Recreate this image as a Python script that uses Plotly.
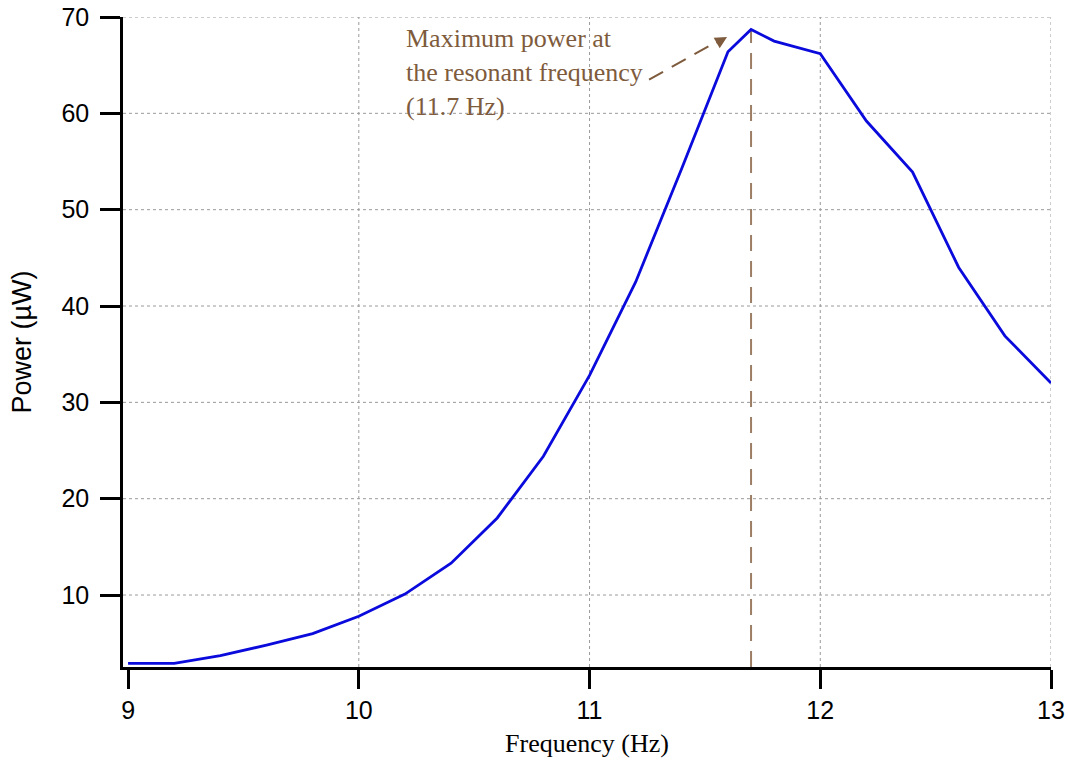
import plotly.graph_objects as go

# ---- data ----
frequency_hz = [9.0, 9.2, 9.4, 9.6, 9.8, 10.0, 10.2, 10.4, 10.6, 10.8, 11.0, 11.2,
                11.4, 11.6, 11.7, 11.8, 12.0, 12.2, 12.4, 12.6, 12.8, 13.0]
power_uw = [2.9, 2.9, 3.7, 4.8, 6.0, 7.8, 10.1, 13.3, 18.0, 24.4, 32.8, 42.5,
            54.3, 66.4, 68.7, 67.5, 66.2, 59.2, 53.9, 44.0, 36.9, 32.0]
x_ticks = [9, 10, 11, 12, 13]
y_ticks = [10, 20, 30, 40, 50, 60, 70]
x_grid = [10, 11, 12, 13]
y_grid = [10, 20, 30, 40, 50, 60, 70]
annotation_text = "Maximum power at<br>the resonant frequency<br>(11.7 Hz)"

X_RANGE = [8.978, 13.0]
Y_RANGE = [2.53, 70.0]

BROWN = "#7E5B3C"
BROWN_LIGHT = "#9C7E64"
BLUE = "#0A0ADC"

peak_i = max(range(len(power_uw)), key=lambda i: power_uw[i])
peak_f = frequency_hz[peak_i]
peak_p = power_uw[peak_i]

fig = go.Figure()

# vertical dashed marker at the resonant frequency
fig.add_trace(go.Scatter(
    x=[peak_f, peak_f], y=[Y_RANGE[0], peak_p], mode="lines",
    line=dict(color=BROWN_LIGHT, width=2, dash="16px,10px"),
    hoverinfo="skip", showlegend=False))

# main curve
fig.add_trace(go.Scatter(
    x=frequency_hz, y=power_uw, mode="lines",
    line=dict(color=BLUE, width=2.8), showlegend=False))

shapes = []
for gx in x_grid:
    shapes.append(dict(type="line", xref="x", yref="paper", x0=gx, x1=gx, y0=0, y1=1,
                       line=dict(color="#9a9a9a", width=1, dash="dot"), layer="below"))
for gy in y_grid:
    shapes.append(dict(type="line", xref="paper", yref="y", x0=0, x1=1, y0=gy, y1=gy,
                       line=dict(color="#9a9a9a", width=1, dash="dot"), layer="below"))

# dashed arrow shaft
arrow_start = (11.258, 63.5)
arrow_end = (11.575, 67.75)
shapes.append(dict(type="line", xref="x", yref="y",
                   x0=arrow_start[0], y0=arrow_start[1], x1=arrow_end[0], y1=arrow_end[1],
                   line=dict(color=BROWN, width=2, dash="16px,10px")))

fig.update_layout(
    width=1068, height=765,
    margin=dict(l=123, r=17, t=17, b=98, autoexpand=False),
    paper_bgcolor="white", plot_bgcolor="white",
    shapes=shapes,
    xaxis=dict(
        range=X_RANGE, tickvals=x_ticks, ticktext=[str(v) for v in x_ticks],
        showgrid=False, zeroline=False, automargin=False,
        showline=True, linecolor="black", linewidth=2.5,
        ticks="outside", ticklen=19, tickwidth=2.5, tickcolor="black",
        tickfont=dict(family="Liberation Sans, Arial", size=25, color="black"),
        title=dict(text="Frequency (Hz)", standoff=12,
                   font=dict(family="Liberation Serif, Times New Roman", size=26, color="black")),
    ),
    yaxis=dict(
        range=Y_RANGE, tickvals=y_ticks, ticktext=[str(v) for v in y_ticks],
        showgrid=False, zeroline=False, automargin=False,
        showline=True, linecolor="black", linewidth=2.5,
        ticks="outside", ticklen=20, tickwidth=2.5, tickcolor="black",
        ticklabelstandoff=6,
        tickfont=dict(family="Liberation Sans, Arial", size=25, color="black"),
        title=dict(text="Power (µW)", standoff=22,
                   font=dict(family="Liberation Sans, Arial", size=27, color="black")),
    ),
    annotations=[
        dict(x=10.195, y=64.19, xref="x", yref="y", text=annotation_text,
             showarrow=False, xanchor="left", yanchor="middle", align="left",
             font=dict(family="Liberation Serif, Times New Roman", size=26, color=BROWN)),
        dict(x=11.596, y=67.93, xref="x", yref="y", text="",
             showarrow=True, arrowhead=2, arrowsize=1.2, arrowwidth=2, arrowcolor=BROWN,
             ax=-12, ay=7),
    ],
)

fig.write_html("out.html")
